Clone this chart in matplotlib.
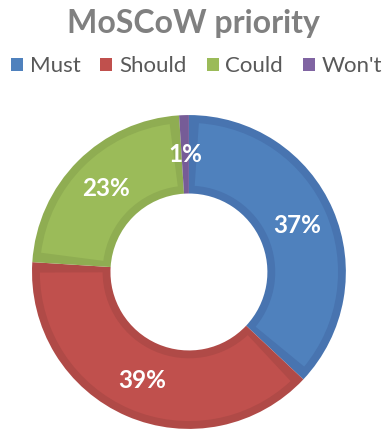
import numpy as np
import matplotlib.pyplot as plt
from matplotlib.patches import Patch, Wedge

categories = ["Must", "Should", "Could", "Won't"]
shares = [37, 39, 23, 1]
colors = ["#4f81bd", "#c0504d", "#9bbb59", "#8064a2"]
rim_colors = ["#4874b0", "#b04a47", "#8fad52", "#765c97"]

plt.rcParams["font.family"] = ["Lato", "DejaVu Sans"]

fig = plt.figure(figsize=(3.87, 4.29), dpi=100)
ax = fig.add_axes([0.0827, 0.0, 0.811, 0.732])

ring = 0.5
wedges, _, autotexts = ax.pie(
    shares,
    colors=rim_colors,
    startangle=90,
    counterclock=False,
    radius=1.0,
    autopct="%d%%",
    pctdistance=0.75,
    wedgeprops=dict(width=ring, linewidth=0),
    textprops=dict(color="white", fontsize=17.5, fontweight="bold"),
)

# lighter inner face for each segment, leaving a darker rim
inset = 0.05
for w, c in zip(wedges, colors):
    span = w.theta2 - w.theta1
    dtheta = np.degrees(inset / 0.75)
    if span <= 2 * dtheta:
        continue
    face = Wedge(
        (0, 0),
        1.0 - inset,
        w.theta1 + dtheta,
        w.theta2 - dtheta,
        width=ring - 2 * inset,
        facecolor=c,
        linewidth=0,
    )
    ax.add_patch(face)
for t in autotexts:
    t.set_zorder(5)

ax.set_xlim(-1, 1)
ax.set_ylim(-1, 1)
ax.set_aspect("equal")
ax.axis("off")

fig.text(0.5, 0.945, "MoSCoW priority", ha="center", va="center",
         fontsize=23, fontweight="bold", color="#808080")

handles = [Patch(facecolor=c, edgecolor="none") for c in colors]
fig.legend(handles, categories, loc="center", bbox_to_anchor=(0.508, 0.845),
           ncol=4, frameon=False, fontsize=16, labelcolor="#595959",
           handlelength=0.55, handleheight=0.55, handletextpad=0.3,
           columnspacing=0.9, borderpad=0, borderaxespad=0)

fig.savefig("out.png", dpi=100)
